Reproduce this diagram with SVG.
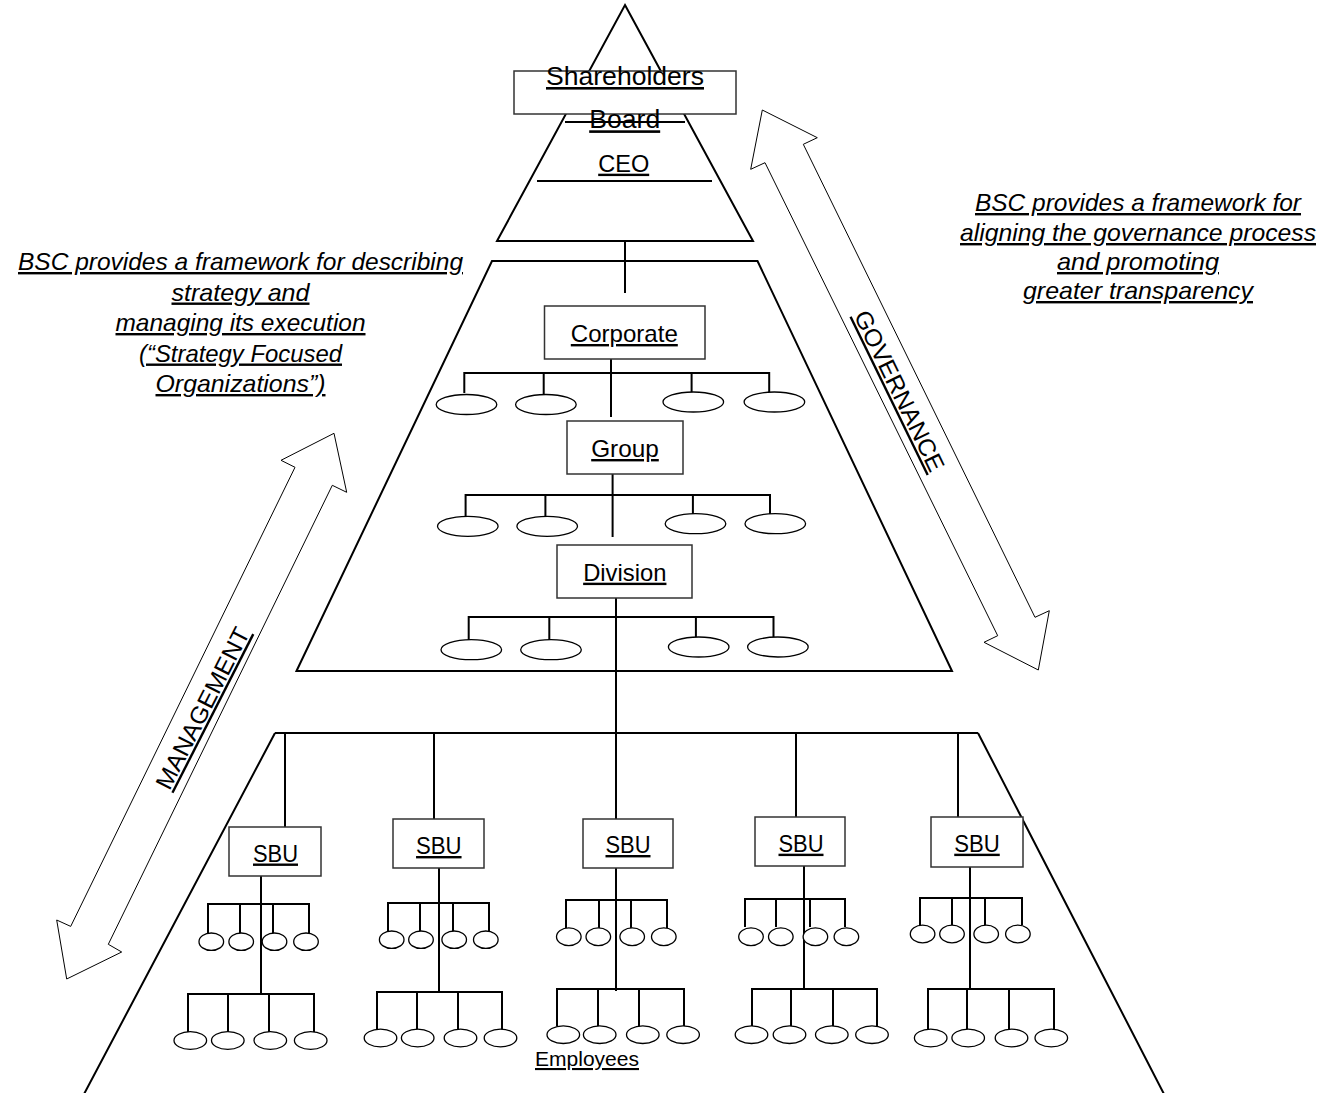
<svg xmlns="http://www.w3.org/2000/svg" width="1322" height="1093" viewBox="0 0 1322 1093">
  <style>
    .edge { stroke: #000; stroke-width: 2; fill: none; }
    .tier { stroke: #000; stroke-width: 2; fill: none; stroke-linejoin: miter; }
    .box { fill: #fff; stroke: #333; stroke-width: 1.5; }
    .unit { fill: #fff; stroke: #000; stroke-width: 1.3; }
    .arrow { fill: none; stroke: #000; stroke-width: 1; stroke-linejoin: miter; }
    .lbl { font-family: "Liberation Sans", Arial, sans-serif; fill: #000; text-anchor: middle; text-decoration: underline; }
    .big { font-size: 26px; }
    .mid { font-size: 24px; }
    .small { font-size: 21px; }
    .note { font-size: 24px; font-style: italic; }
  </style>

  <!-- tier outlines -->
  <g id="tier-top">
    <polygon class="tier" points="625,5 753,241 497,241"/>
  </g>
  <g id="tier-middle">
    <path class="tier" d="M296.5,671 L492,261 L757.5,261 L952,671 Z"/>
  </g>
  <g id="tier-bottom">
    <path class="tier" d="M83,1096 L275,733 M978,733 L1165,1096"/>
  </g>

  <!-- side arrows -->
  <g id="arrow-management">
    <polygon class="arrow" points="334,433.3 346.7,492.3 332.3,485.3 108.3,944.3 121.7,952 66.7,979 56.7,920 70.7,926.4 295,467.3 281,460.3"/>
    <text class="lbl mid" transform="translate(210,712) rotate(-63)" textLength="178" lengthAdjust="spacingAndGlyphs">MANAGEMENT</text>
  </g>
  <g id="arrow-governance">
    <polygon class="arrow" points="762.3,110 817.3,137.7 803.3,144.3 1035,617.3 1049.3,610.7 1038.3,670 984,642.3 997.7,635.7 765,162.7 750.7,169.3"/>
    <text class="lbl mid" transform="translate(892,394.5) rotate(64)" textLength="176" lengthAdjust="spacingAndGlyphs">GOVERNANCE</text>
  </g>

  <!-- annotations -->
  <g id="note-management">
    <text class="lbl note" x="240.5" y="270" textLength="445" lengthAdjust="spacingAndGlyphs">BSC provides a framework for describing</text>
    <text class="lbl note" x="240.5" y="300.5" textLength="138" lengthAdjust="spacingAndGlyphs">strategy and</text>
    <text class="lbl note" x="240.5" y="331" textLength="250" lengthAdjust="spacingAndGlyphs">managing its execution</text>
    <text class="lbl note" x="240.5" y="361.5" textLength="203" lengthAdjust="spacingAndGlyphs">(“Strategy Focused</text>
    <text class="lbl note" x="240.5" y="392" textLength="170" lengthAdjust="spacingAndGlyphs">Organizations”)</text>
  </g>
  <g id="note-governance">
    <text class="lbl note" x="1138" y="211" textLength="326" lengthAdjust="spacingAndGlyphs">BSC provides a framework for</text>
    <text class="lbl note" x="1138" y="241" textLength="356" lengthAdjust="spacingAndGlyphs">aligning the governance process</text>
    <text class="lbl note" x="1138" y="270" textLength="162" lengthAdjust="spacingAndGlyphs">and promoting</text>
    <text class="lbl note" x="1138" y="299" textLength="230" lengthAdjust="spacingAndGlyphs">greater transparency</text>
  </g>

  <!-- connectors -->
  <g id="connectors" class="edge">
    <!-- board / CEO rules -->
    <line x1="565" y1="122" x2="685" y2="122"/>
    <line x1="537" y1="181" x2="712" y2="181"/>
    <!-- CEO to corporate -->
    <line x1="625" y1="241" x2="625" y2="293"/>
    <!-- corporate -->
    <line x1="611" y1="359" x2="611" y2="417"/>
    <polyline points="464.3,393 464.3,373 769.2,373 769.2,392"/>
    <line x1="543.7" y1="373" x2="543.7" y2="394"/>
    <line x1="691.6" y1="373" x2="691.6" y2="392"/>
    <!-- group -->
    <line x1="612.6" y1="474" x2="612.6" y2="537"/>
    <polyline points="465.6,516 465.6,495 770,495 770,514"/>
    <line x1="545.4" y1="495" x2="545.4" y2="516"/>
    <line x1="692.9" y1="495" x2="692.9" y2="514"/>
    <!-- division -->
    <line x1="616" y1="598" x2="616" y2="819"/>
    <polyline points="468.7,640 468.7,617 773.5,617 773.5,637"/>
    <line x1="549.3" y1="617" x2="549.3" y2="640"/>
    <line x1="695.9" y1="617" x2="695.9" y2="637"/>
    <!-- SBU row -->
    <line x1="275" y1="733" x2="978" y2="733"/>
    <line x1="285" y1="733" x2="285" y2="827"/>
    <line x1="434" y1="733" x2="434" y2="819"/>
    <line x1="796" y1="733" x2="796" y2="817"/>
    <line x1="958" y1="733" x2="958" y2="817"/>

    <!-- SBU 1 -->
    <line x1="261" y1="876" x2="261" y2="994"/>
    <polyline points="208,933 208,904 309,904 309,933"/>
    <line x1="240" y1="904" x2="240" y2="933"/>
    <line x1="273" y1="904" x2="273" y2="933"/>
    <polyline points="188,1032 188,994 314,994 314,1032"/>
    <line x1="228" y1="994" x2="228" y2="1032"/>
    <line x1="269" y1="994" x2="269" y2="1032"/>
    <!-- SBU 2 -->
    <line x1="439" y1="868" x2="439" y2="992"/>
    <polyline points="388,931 388,903 489,903 489,931"/>
    <line x1="420" y1="903" x2="420" y2="931"/>
    <line x1="453" y1="903" x2="453" y2="931"/>
    <polyline points="377,1030 377,992 502,992 502,1030"/>
    <line x1="417" y1="992" x2="417" y2="1030"/>
    <line x1="458" y1="992" x2="458" y2="1030"/>
    <!-- SBU 3 -->
    <line x1="616" y1="868" x2="616" y2="991"/>
    <polyline points="566,928 566,900 667,900 667,928"/>
    <line x1="599" y1="900" x2="599" y2="928"/>
    <line x1="631" y1="900" x2="631" y2="928"/>
    <polyline points="557,1026 557,989 684,989 684,1026"/>
    <line x1="598" y1="989" x2="598" y2="1026"/>
    <line x1="639" y1="989" x2="639" y2="1026"/>
    <!-- SBU 4 -->
    <line x1="804" y1="866" x2="804" y2="989"/>
    <polyline points="745,927 745,899 845,899 845,927"/>
    <line x1="776" y1="899" x2="776" y2="927"/>
    <line x1="810" y1="899" x2="810" y2="927"/>
    <polyline points="752,1026 752,989 877,989 877,1026"/>
    <line x1="791" y1="989" x2="791" y2="1026"/>
    <line x1="833" y1="989" x2="833" y2="1026"/>
    <!-- SBU 5 -->
    <line x1="970" y1="867" x2="970" y2="989"/>
    <polyline points="920,925 920,898 1022,898 1022,925"/>
    <line x1="952" y1="898" x2="952" y2="925"/>
    <line x1="985" y1="898" x2="985" y2="925"/>
    <polyline points="928,1029 928,989 1054,989 1054,1029"/>
    <line x1="967" y1="989" x2="967" y2="1029"/>
    <line x1="1009" y1="989" x2="1009" y2="1029"/>
  </g>

  <!-- governance nodes -->
  <g id="shareholders">
    <rect class="box" x="514" y="71" width="222" height="43"/>
    <text class="lbl big" x="625" y="85" textLength="158" lengthAdjust="spacingAndGlyphs">Shareholders</text>
  </g>
  <g id="board">
    <text class="lbl big" x="624.7" y="128.3" textLength="71" lengthAdjust="spacingAndGlyphs">Board</text>
  </g>
  <g id="ceo">
    <text class="lbl mid" x="623.7" y="171.7" textLength="51" lengthAdjust="spacingAndGlyphs">CEO</text>
  </g>

  <!-- management nodes -->
  <g id="corporate">
    <rect class="box" x="544.5" y="306" width="160.5" height="53"/>
    <text class="lbl mid" x="624.3" y="342" textLength="107" lengthAdjust="spacingAndGlyphs">Corporate</text>
  </g>
  <g id="corporate-units">
    <ellipse class="unit" cx="466.5" cy="404.5" rx="30.3" ry="10"/>
    <ellipse class="unit" cx="545.9" cy="404.5" rx="30.3" ry="10"/>
    <ellipse class="unit" cx="693.3" cy="402" rx="30.3" ry="10"/>
    <ellipse class="unit" cx="774.4" cy="402" rx="30.3" ry="10"/>
  </g>
  <g id="group">
    <rect class="box" x="567" y="421" width="116" height="53"/>
    <text class="lbl mid" x="625" y="457" textLength="67.6" lengthAdjust="spacingAndGlyphs">Group</text>
  </g>
  <g id="group-units">
    <ellipse class="unit" cx="467.8" cy="526.3" rx="30.3" ry="10"/>
    <ellipse class="unit" cx="547.2" cy="526.3" rx="30.3" ry="10"/>
    <ellipse class="unit" cx="695.5" cy="523.7" rx="30.3" ry="10"/>
    <ellipse class="unit" cx="775.3" cy="523.7" rx="30.3" ry="10"/>
  </g>
  <g id="division">
    <rect class="box" x="557" y="545" width="135" height="53"/>
    <text class="lbl mid" x="624.8" y="580.7" textLength="83.3" lengthAdjust="spacingAndGlyphs">Division</text>
  </g>
  <g id="division-units">
    <ellipse class="unit" cx="471.3" cy="649.7" rx="30.3" ry="10"/>
    <ellipse class="unit" cx="551" cy="649.7" rx="30.3" ry="10"/>
    <ellipse class="unit" cx="698.7" cy="647" rx="30.3" ry="10"/>
    <ellipse class="unit" cx="777.9" cy="647" rx="30.3" ry="10"/>
  </g>

  <!-- strategic business units -->
  <g id="sbu-1">
    <rect class="box" x="229" y="827" width="92" height="49"/>
    <text class="lbl mid" x="275.5" y="861.5" textLength="45" lengthAdjust="spacingAndGlyphs">SBU</text>
    <ellipse class="unit" cx="211.3" cy="941.7" rx="12.3" ry="8.7"/>
    <ellipse class="unit" cx="241.2" cy="941.7" rx="12.3" ry="8.7"/>
    <ellipse class="unit" cx="274.5" cy="941.7" rx="12.3" ry="8.7"/>
    <ellipse class="unit" cx="306" cy="941.7" rx="12.3" ry="8.7"/>
    <ellipse class="unit" cx="190.3" cy="1040.5" rx="16.3" ry="8.8"/>
    <ellipse class="unit" cx="227.8" cy="1040.5" rx="16.3" ry="8.8"/>
    <ellipse class="unit" cx="270.3" cy="1040.5" rx="16.3" ry="8.8"/>
    <ellipse class="unit" cx="310.7" cy="1040.5" rx="16.3" ry="8.8"/>
  </g>
  <g id="sbu-2">
    <rect class="box" x="393" y="819" width="91" height="49"/>
    <text class="lbl mid" x="438.8" y="854" textLength="45.5" lengthAdjust="spacingAndGlyphs">SBU</text>
    <ellipse class="unit" cx="391.7" cy="939.7" rx="12.3" ry="8.7"/>
    <ellipse class="unit" cx="421" cy="939.7" rx="12.3" ry="8.7"/>
    <ellipse class="unit" cx="454.2" cy="939.7" rx="12.3" ry="8.7"/>
    <ellipse class="unit" cx="485.8" cy="939.7" rx="12.3" ry="8.7"/>
    <ellipse class="unit" cx="380.5" cy="1038" rx="16.3" ry="8.8"/>
    <ellipse class="unit" cx="417.7" cy="1038" rx="16.3" ry="8.8"/>
    <ellipse class="unit" cx="460.5" cy="1038" rx="16.3" ry="8.8"/>
    <ellipse class="unit" cx="500.5" cy="1038" rx="16.3" ry="8.8"/>
  </g>
  <g id="sbu-3">
    <rect class="box" x="583" y="819" width="90" height="49"/>
    <text class="lbl mid" x="628" y="853" textLength="45" lengthAdjust="spacingAndGlyphs">SBU</text>
    <ellipse class="unit" cx="568.8" cy="936.7" rx="12.3" ry="8.9"/>
    <ellipse class="unit" cx="598.3" cy="936.7" rx="12.3" ry="8.9"/>
    <ellipse class="unit" cx="632.2" cy="936.7" rx="12.3" ry="8.9"/>
    <ellipse class="unit" cx="663.8" cy="936.7" rx="12.3" ry="8.9"/>
    <ellipse class="unit" cx="563.3" cy="1034.7" rx="16.3" ry="8.8"/>
    <ellipse class="unit" cx="599.7" cy="1034.7" rx="16.3" ry="8.8"/>
    <ellipse class="unit" cx="642.8" cy="1034.7" rx="16.3" ry="8.8"/>
    <ellipse class="unit" cx="683.1" cy="1034.7" rx="16.3" ry="8.8"/>
  </g>
  <g id="sbu-4">
    <rect class="box" x="755" y="817" width="90" height="49"/>
    <text class="lbl mid" x="801" y="851.7" textLength="45" lengthAdjust="spacingAndGlyphs">SBU</text>
    <ellipse class="unit" cx="751" cy="936.7" rx="12.3" ry="8.9"/>
    <ellipse class="unit" cx="780.8" cy="936.7" rx="12.3" ry="8.9"/>
    <ellipse class="unit" cx="815.4" cy="936.7" rx="12.3" ry="8.9"/>
    <ellipse class="unit" cx="846.4" cy="936.7" rx="12.3" ry="8.9"/>
    <ellipse class="unit" cx="751.5" cy="1034.7" rx="16.3" ry="8.8"/>
    <ellipse class="unit" cx="789.5" cy="1034.7" rx="16.3" ry="8.8"/>
    <ellipse class="unit" cx="831.8" cy="1034.7" rx="16.3" ry="8.8"/>
    <ellipse class="unit" cx="872" cy="1034.7" rx="16.3" ry="8.8"/>
  </g>
  <g id="sbu-5">
    <rect class="box" x="931" y="817" width="92" height="50"/>
    <text class="lbl mid" x="977" y="851.7" textLength="45.5" lengthAdjust="spacingAndGlyphs">SBU</text>
    <ellipse class="unit" cx="922.6" cy="934" rx="12.3" ry="8.9"/>
    <ellipse class="unit" cx="952" cy="934" rx="12.3" ry="8.9"/>
    <ellipse class="unit" cx="986.2" cy="934" rx="12.3" ry="8.9"/>
    <ellipse class="unit" cx="1017.9" cy="934" rx="12.3" ry="8.9"/>
    <ellipse class="unit" cx="930.7" cy="1038" rx="16.3" ry="8.8"/>
    <ellipse class="unit" cx="968.2" cy="1038" rx="16.3" ry="8.8"/>
    <ellipse class="unit" cx="1011.5" cy="1038" rx="16.3" ry="8.8"/>
    <ellipse class="unit" cx="1051.3" cy="1038" rx="16.3" ry="8.8"/>
  </g>

  <g id="employees">
    <text class="lbl small" x="587" y="1066" textLength="104" lengthAdjust="spacingAndGlyphs">Employees</text>
  </g>
</svg>
